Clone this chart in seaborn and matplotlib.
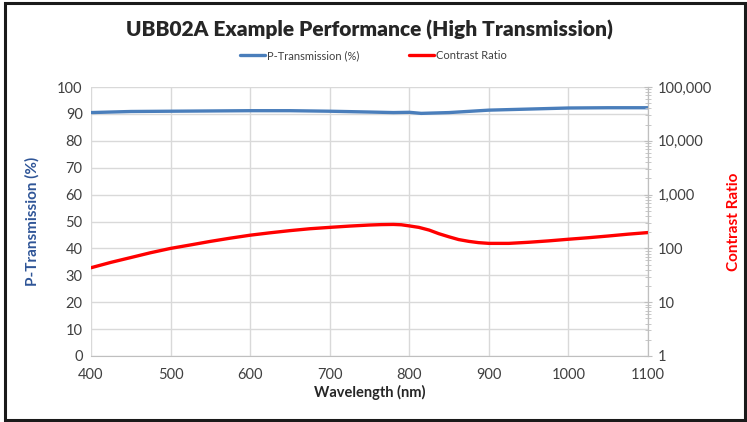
import numpy as np
import pandas as pd
import matplotlib
matplotlib.use("Agg")
import matplotlib.pyplot as plt
import matplotlib.ticker as mticker
from matplotlib.patches import Rectangle
import seaborn as sns

# P-Transmission (%)
trans_wl = [400, 450, 500, 550, 600, 650, 700, 750, 780, 800, 815, 850, 900, 950, 1000, 1050, 1100]
trans_pct = [90.5, 90.9, 91.0, 91.1, 91.2, 91.2, 91.0, 90.7, 90.5, 90.6, 90.2, 90.5, 91.4, 91.8, 92.2, 92.3, 92.3]

# Contrast ratio
cr_wl = [400, 425, 450, 475, 500, 525, 550, 575, 600, 625, 650, 675, 700, 725, 750, 765,
         780, 790, 800, 812, 825, 837, 850, 862, 875, 887, 900, 925, 950, 975, 1000,
         1025, 1050, 1075, 1100]
cr_val = [43.7, 55.0, 67.6, 83.2, 100, 116, 135, 155, 176, 195, 214, 232, 246, 260, 272, 277,
          279, 275, 262, 246, 219, 188, 164, 146, 135, 128, 124, 124, 130, 138, 148,
          158, 170, 184, 197]

BLUE = "#4A7EBB"
RED = "#FF0000"
GRID = "#D9D9D9"
TXT = "#404040"

sns.set_style("white")
plt.rcParams["font.family"] = ["Lato", "DejaVu Sans"]

fig = plt.figure(figsize=(7.47, 4.22), dpi=100)
ax = fig.add_axes([0.1218, 0.1564, 0.7457, 0.6374])
ax2 = ax.twinx()

df_t = pd.DataFrame({"wl": trans_wl, "val": trans_pct})
df_c = pd.DataFrame({"wl": cr_wl, "val": cr_val})

sns.lineplot(data=df_t, x="wl", y="val", ax=ax, color=BLUE, lw=2.4, label="P-Transmission (%)", legend=False)
sns.lineplot(data=df_c, x="wl", y="val", ax=ax2, color=RED, lw=2.4, label="Contrast Ratio", legend=False)

ax.set_xlim(400, 1100)
ax.set_ylim(0, 100)
ax.set_xticks(range(400, 1101, 100))
ax.set_yticks(range(0, 101, 10))
ax.grid(True, color=GRID, lw=1)
ax.set_axisbelow(True)

ax2.set_yscale("log")
ax2.set_ylim(1, 100000)
ax2.yaxis.set_major_locator(mticker.LogLocator(base=10, numticks=10))
ax2.yaxis.set_major_formatter(mticker.FuncFormatter(lambda v, p: f"{int(round(v)):,}"))
ax2.yaxis.set_minor_locator(mticker.LogLocator(base=10, subs=np.arange(2, 10), numticks=20))
ax2.yaxis.set_minor_formatter(mticker.NullFormatter())
ax2.tick_params(axis="y", which="major", direction="inout", length=6, color="#BFBFBF", labelsize=10.5, labelcolor=TXT, pad=4)
ax2.tick_params(axis="y", which="minor", direction="inout", length=4, color="#BFBFBF")

for a in (ax, ax2):
    for s in ("top", "left"):
        a.spines[s].set_visible(False)
    a.spines["bottom"].set_color("#BFBFBF")
    a.spines["right"].set_color("#BFBFBF")
ax2.spines["bottom"].set_visible(False)

ax.tick_params(axis="both", length=0, labelsize=10.5, labelcolor=TXT)
ax.tick_params(axis="x", pad=9)
ax.tick_params(axis="y", pad=6)

ax.set_xlabel("Wavelength (nm)", fontsize=10.5, fontweight="bold", color="#262626", labelpad=2)
ax.set_ylabel("P-Transmission (%)", fontsize=11, fontweight="bold", color="#2F5597")
ax.yaxis.set_label_coords(-0.092, 0.5)
ax2.set_ylabel("Contrast Ratio", fontsize=11, fontweight="bold", color=RED)
ax2.yaxis.set_label_coords(1.141, 0.5)

fig.text(0.495, 0.928, "UBB02A Example Performance (High Transmission)", ha="center", va="center",
         fontsize=15, fontweight="heavy", color="#262626")

h1, l1 = ax.get_legend_handles_labels()
h2, l2 = ax2.get_legend_handles_labels()
fig.legend(h1 + h2, l1 + l2, loc="center", bbox_to_anchor=(0.5, 0.868), ncol=2, frameon=False,
           fontsize=8, handlelength=2.2, handletextpad=0.2, columnspacing=4.5, labelcolor=TXT)

fig.patches.append(Rectangle((5 / 747, 2 / 422), 740 / 747, 417 / 422, transform=fig.transFigure,
                             fill=False, edgecolor="#1a1a1a", lw=2.2))

fig.savefig("out.png", dpi=100)
